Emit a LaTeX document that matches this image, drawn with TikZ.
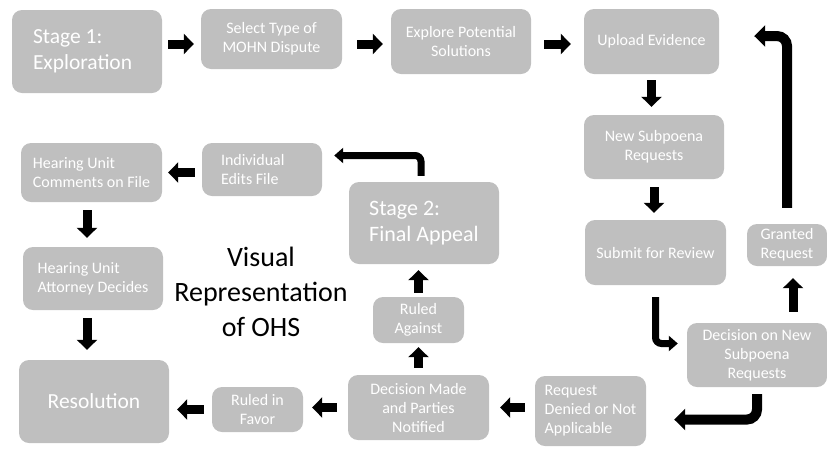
\documentclass[tikz,border=0pt]{standalone}
\usepackage{fontspec}
\setmainfont{Carlito}
\usetikzlibrary{arrows.meta,scopes}
\definecolor{boxgray}{HTML}{BFBFBF}
\tikzset{
  card/.style={fill=boxgray, rounded corners=10pt, text=white, inner sep=0pt,
               align=center, font=\fontsize{16}{19}\selectfont},
  bigcard/.style={card, font=\fontsize{21.5}{25.5}\selectfont},
  blk/.style={line width=9pt, -{Triangle[length=10pt,width=20pt]}},
  bent/.style={line width=7pt, rounded corners=6pt, -{Triangle[length=9pt,width=15pt]}},
  fatbent/.style={line width=10pt, rounded corners=10pt, -{Triangle[length=11pt,width=21pt]}},
}
\begin{document}
\begin{tikzpicture}[x=1pt,y=-1pt]
\useasboundingbox (0,0) rectangle (827,448);

\path node[bigcard,minimum width=150pt,minimum height=83pt,align=flush left,text width=108pt,inner xsep=21pt]
                 (stA)  at (87,51.5)    {Stage 1:\\Exploration}
      node[card,minimum width=141pt,minimum height=60pt] (sel)  at (271.5,39)  {Select Type of\\MOHN Dispute}
      node[card,minimum width=140pt,minimum height=65pt] (expl) at (461,41.5)  {Explore Potential\\Solutions}
      node[card,minimum width=135pt,minimum height=65pt] (upl)  at (651.5,41.5) {Upload Evidence}
      node[card,minimum width=140pt,minimum height=64pt] (subp) at (654,147)   {New Subpoena\\Requests}
      node[card,minimum width=141pt,minimum height=65pt] (subm) at (655.5,252.5) {Submit for Review}
      node[card,minimum width=80pt,minimum height=42pt]  (gran) at (787,245)   {Granted\\Request}
      node[card,minimum width=140pt,minimum height=64pt] (decn) at (757,355)   {Decision on New\\Subpoena\\Requests}
      node[card,minimum width=111pt,minimum height=70pt,align=left]
                 (deny) at (590.5,411)  {Request\\Denied~or~Not\\Applicable}
      node[card,minimum width=141pt,minimum height=65pt] (decm) at (418.5,407.5) {Decision Made\\and Parties\\Notified}
      node[card,minimum width=91pt,minimum height=45pt]  (favr) at (257.5,409.5) {Ruled in\\Favor}
      node[bigcard,minimum width=150pt,minimum height=83pt] (reso) at (94,401.5) {Resolution}
      node[bigcard,minimum width=150pt,minimum height=82pt,align=left,font=\fontsize{22}{26}\selectfont]
                 (stB)  at (424,223)    {Stage 2:\\Final~Appeal}
      node[card,minimum width=91pt,minimum height=46pt]  (agst) at (418.5,320) {Ruled\\Against}
      node[card,minimum width=120pt,minimum height=53pt,align=flush left,text width=82pt,inner xsep=19pt]
                 (edit) at (262,169.5)  {Individual\\Edits~File}
      node[card,minimum width=141pt,minimum height=59pt,align=left]
                 (comm) at (91.5,172.5) {Hearing~Unit\\Comments~on~File}
      node[card,minimum width=140pt,minimum height=63pt,align=left]
                 (atty) at (93,278.5)   {Hearing~Unit\\Attorney~Decides}
      node[align=center,font=\fontsize{28}{35}\selectfont]
                 (title) at (261,292)   {Visual\\Representation\\of OHS};

{ [blk]
  % stage 1 row
  \draw[shorten <=6pt,shorten >=7pt]   ([yshift=7.5pt]stA.east) -- ([yshift=-5pt]sel.west);
  \draw[shorten <=15pt,shorten >=8pt]  ([yshift=-5pt]sel.east) -- ([yshift=-2.5pt]expl.west);
  \draw[shorten <=13pt,shorten >=13pt] ([yshift=-2.5pt]expl.east) -- ([yshift=-2.5pt]upl.west);
  \draw[shorten <=6pt,shorten >=8pt]   (upl.south) -- (upl.south |- subp.north);
  \draw[shorten <=8pt,shorten >=7pt]   (subp.south) -- (subp.south |- subm.north);
  \draw[shorten <=11pt,shorten >=12pt] ([xshift=6pt]gran.south |- decn.north) -- ([xshift=6pt]gran.south);
  % bottom row
  \draw[shorten <=10pt,shorten >=11pt] (deny.west |- decm.east) -- (decm.east);
  \draw[shorten <=11pt,shorten >=9pt]  (decm.west) -- (decm.west -| favr.east);
  \draw[shorten <=8pt,shorten >=8pt]   (favr.west) -- (favr.west -| reso.east);
  \draw[shorten <=7pt,shorten >=4pt]   (decm.north) -- (agst.south);
  \draw[shorten <=4pt,shorten >=6pt]   (agst.north) -- (agst.north |- stB.south);
  % left column
  \draw[shorten <=7pt,shorten >=6pt]   (edit.west |- comm.east) -- (comm.east);
  \draw[shorten <=8pt,shorten >=9pt]   ([xshift=-4.5pt]comm.south) -- ([xshift=-4.5pt]comm.south |- atty.north);
  \draw[shorten <=8pt,shorten >=10pt]  ([xshift=-6pt]atty.south) -- ([xshift=-6pt]atty.south |- reso.north);
}
{ [bent]
  \draw[shorten <=12pt,shorten >=9pt] (subm) |- ([yshift=11.5pt]decn.west);
  \draw[shorten <=6pt,shorten >=12pt] ([xshift=-3pt]stB.north) |- ([yshift=14pt]edit.east);
}
{ [fatbent]
  \draw[shorten <=7pt,shorten >=28pt]  (decn) |- ([yshift=-8.5pt]deny.east);
  \draw[shorten <=16pt,shorten >=35pt] (gran) |- ([yshift=5.5pt]upl.east);
}
\end{tikzpicture}
\end{document}
